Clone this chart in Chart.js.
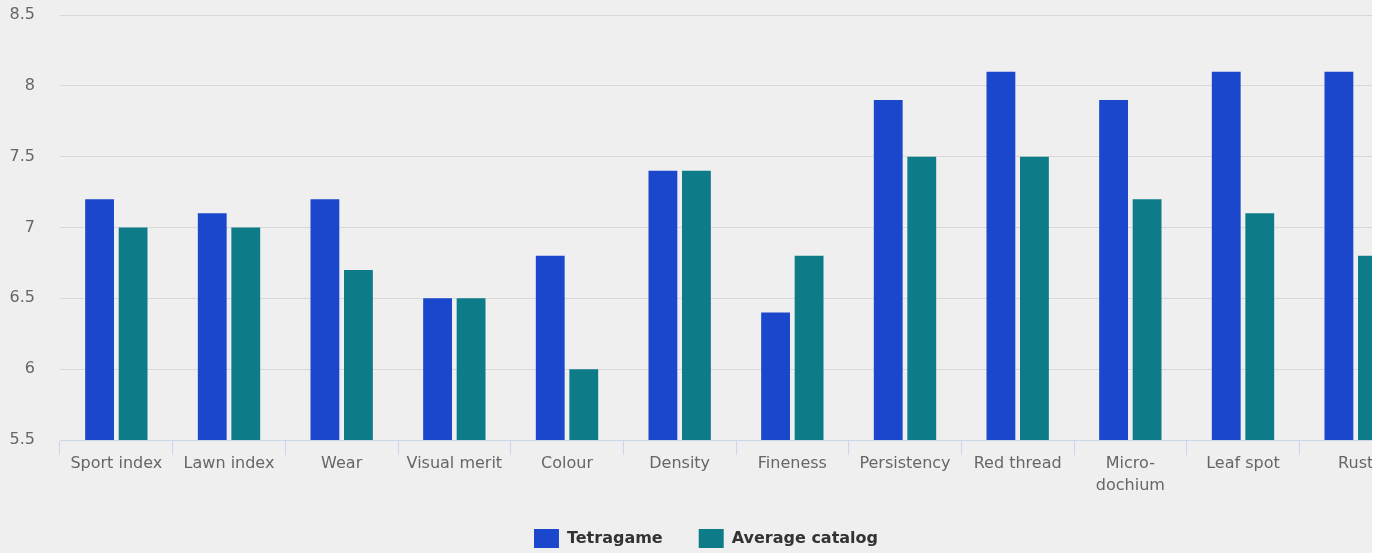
<!DOCTYPE html>
<html>
<head>
<meta charset="utf-8">
<script src="https://cdn.jsdelivr.net/npm/chart.js@4.4.1/dist/chart.umd.min.js"></script>
<style>
  html, body { margin: 0; padding: 0; background: #fff; overflow: hidden; }
  #wrap { width: 1372px; height: 553px; overflow: hidden; background: #efefef; }
  #box { width: 1420px; height: 553px; }
</style>
</head>
<body>
<div id="wrap"><div id="box"><canvas id="myChart"></canvas></div></div>
<script>
const categories = ["Sport index", "Lawn index", "Wear", "Visual merit", "Colour", "Density",
  "Fineness", "Persistency", "Red thread", ["Micro-", "dochium"], "Leaf spot", "Rust"];
const tetragame = [7.2, 7.1, 7.2, 6.5, 6.8, 7.4, 6.4, 7.9, 8.1, 7.9, 8.1, 8.1];
const averageCatalog = [7.0, 7.0, 6.7, 6.5, 6.0, 7.4, 6.8, 7.5, 7.5, 7.2, 7.1, 6.8];
const yTicks = [5.5, 6, 6.5, 7, 7.5, 8, 8.5];

const font = "'DejaVu Sans', sans-serif";

// keep the legend box at a fixed height so the plot area matches
const legendHeight = {
  id: "legendHeight",
  afterInit(chart) {
    const legend = chart.legend;
    const fit = legend.fit;
    legend.fit = function () {
      fit.call(this);
      this.height = 60;
    };
  },
};

let ctx = document.getElementById("myChart").getContext("2d");
new Chart(ctx, {
  type: "bar",
  data: {
    labels: categories,
    datasets: [
      {
        label: "Tetragame",
        data: tetragame,
        backgroundColor: "#1b47cc",
        categoryPercentage: 0.595,
        barPercentage: 0.86,
      },
      {
        label: "Average catalog",
        data: averageCatalog,
        backgroundColor: "#0d7c88",
        categoryPercentage: 0.595,
        barPercentage: 0.86,
      },
    ],
  },
  plugins: [legendHeight],
  options: {
    responsive: true,
    maintainAspectRatio: false,
    animation: false,
    layout: { padding: { top: 15, right: 8, left: 0, bottom: 0 } },
    plugins: {
      tooltip: { enabled: false },
      legend: {
        position: "bottom",
        labels: {
          boxWidth: 25,
          boxHeight: 19,
          padding: 36,
          color: "#333",
          font: { family: font, size: 16, weight: "bold" },
        },
      },
    },
    scales: {
      x: {
        afterFit: (scale) => { scale.height = 53; },
        grid: {
          drawOnChartArea: false,
          color: "#ccd6eb",
          tickLength: 15,
        },
        border: { color: "#ccd6eb" },
        ticks: {
          color: "#666",
          padding: -2,
          maxRotation: 0,
          autoSkip: false,
          font: { family: font, size: 16, lineHeight: 1.35 },
        },
      },
      y: {
        min: 5.5,
        max: 8.5,
        afterFit: (scale) => {
          scale.width = 60;
          scale.paddingTop = 0;
          scale.paddingBottom = 0;
        },
        afterBuildTicks: (scale) => { scale.ticks = yTicks.map((v) => ({ value: v })); },
        grid: { color: "#d8d8d8", drawTicks: false },
        border: { display: false },
        ticks: {
          color: "#666",
          padding: 25,
          font: { family: font, size: 16 },
          callback: (v) => String(v),
        },
      },
    },
  },
});
</script>
</body>
</html>
